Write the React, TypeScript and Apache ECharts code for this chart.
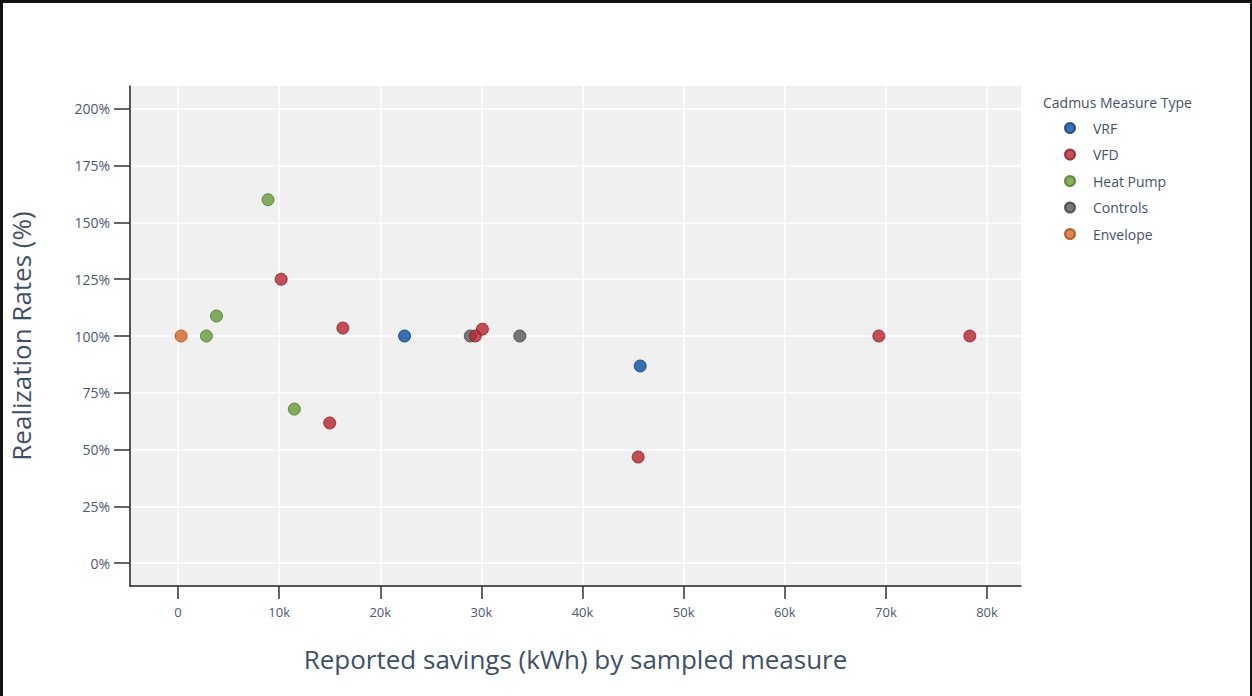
import React, { useEffect, useRef } from "react";
import * as echarts from "echarts";

const seriesNames = ["VRF", "VFD", "Heat Pump", "Controls", "Envelope"];
const seriesColors = ["#0d4ea3", "#b5252e", "#689a3a", "#565656", "#d4661f"];
const seriesBorders = ["#083a7a", "#861a21", "#4c7428", "#3a3a3a", "#a44c12"];

const vrfX = [22400, 45700];
const vrfY = [100, 86.8];
const vfdX = [10200, 16300, 15000, 29400, 30100, 45500, 69300, 78300];
const vfdY = [125, 103.5, 61.7, 100, 103, 46.7, 100, 100];
const heatPumpX = [2800, 3800, 8900, 11500];
const heatPumpY = [100, 108.8, 160, 67.8];
const controlsX = [28900, 33800];
const controlsY = [100, 100];
const envelopeX = [300];
const envelopeY = [100];

const xTicks = [0, 10000, 20000, 30000, 40000, 50000, 60000, 70000, 80000];
const yTicks = [0, 25, 50, 75, 100, 125, 150, 175, 200];

const xTitle = "Reported savings (kWh) by sampled measure";
const yTitle = "Realization Rates (%)";
const legendTitle = "Cadmus Measure Type";

const FONT = "'Open Sans', 'Noto Sans', sans-serif";

function pairs(xs: number[], ys: number[]) {
  return xs.map((x, i) => [x, ys[i]]);
}

export default function App() {
  const ref = useRef<HTMLDivElement>(null);
  useEffect(() => {
    document.body.style.margin = "0";
    if (!ref.current) return;
    const chart = echarts.init(ref.current, null, { renderer: "svg" });
    const datasets = [
      pairs(vrfX, vrfY),
      pairs(vfdX, vfdY),
      pairs(heatPumpX, heatPumpY),
      pairs(controlsX, controlsY),
      pairs(envelopeX, envelopeY),
    ];
    const zs = [3, 4, 3, 2, 3];
    chart.setOption({
      animation: false,
      backgroundColor: "#ffffff",
      title: {
        text: legendTitle,
        left: 1038,
        top: 90,
        textStyle: { fontFamily: FONT, fontSize: 14, fontWeight: "normal", color: "#44536a" },
      },
      legend: {
        orient: "vertical",
        left: 1059,
        top: 115,
        itemGap: 10.5,
        itemWidth: 10,
        itemHeight: 10,
        icon: "circle",
        textStyle: { fontFamily: FONT, fontSize: 14, color: "#44536a", lineHeight: 16, padding: [0, 0, 0, 13] },
        data: seriesNames,
      },
      grid: { left: 126, right: 231, top: 86, bottom: 110, show: true, backgroundColor: "#f0f0f0", borderWidth: 0, containLabel: false },
      xAxis: {
        type: "value",
        min: -4750,
        max: 83360,
        name: xTitle,
        nameLocation: "middle",
        nameGap: 60,
        nameTextStyle: { fontFamily: FONT, fontSize: 26, color: "#3e5068" },
        axisLine: { show: true, onZero: false, lineStyle: { color: "#222", width: 1.5 } },
        axisTick: { show: true, length: 13, customValues: xTicks, lineStyle: { color: "#333", width: 1.5 } },
        axisLabel: {
          customValues: xTicks,
          margin: 19,
          fontFamily: FONT,
          fontSize: 13,
          color: "#4a5a70",
          formatter: (v: number) => (v === 0 ? "0" : v / 1000 + "k"),
        },
        splitLine: { show: true, lineStyle: { color: "#ffffff", width: 1.5 } },
      },
      yAxis: {
        type: "value",
        min: -10.1,
        max: 210.1,
        name: yTitle,
        nameLocation: "middle",
        nameGap: 96,
        nameTextStyle: { fontFamily: FONT, fontSize: 26, color: "#3e5068" },
        axisLine: { show: true, onZero: false, lineStyle: { color: "#222", width: 1.5 } },
        axisTick: { show: true, length: 16, customValues: yTicks, lineStyle: { color: "#333", width: 1.5 } },
        axisLabel: {
          customValues: yTicks,
          margin: 20,
          fontFamily: FONT,
          fontSize: 14,
          color: "#4a5a70",
          formatter: (v: number) => v + "%",
        },
        splitLine: { show: true, lineStyle: { color: "#ffffff", width: 1.5 } },
      },
      series: seriesNames.map((name, i) => ({
        name,
        type: "scatter",
        z: zs[i],
        symbol: "circle",
        symbolSize: 12,
        itemStyle: { color: seriesColors[i], borderColor: seriesBorders[i], borderWidth: 1 },
        data: datasets[i],
      })),
    });
    return () => chart.dispose();
  }, []);
  return (
    <div style={{ position: "relative", width: 1252, height: 696 }}>
      <div ref={ref} style={{ width: 1252, height: 696 }} />
      <div
        style={{
          position: "absolute",
          left: 0,
          top: 0,
          width: 1252,
          height: 696,
          boxSizing: "border-box",
          borderTop: "3px solid #111",
          borderLeft: "3px solid #111",
          borderRight: "2px solid #111",
          pointerEvents: "none",
        }}
      />
    </div>
  );
}
